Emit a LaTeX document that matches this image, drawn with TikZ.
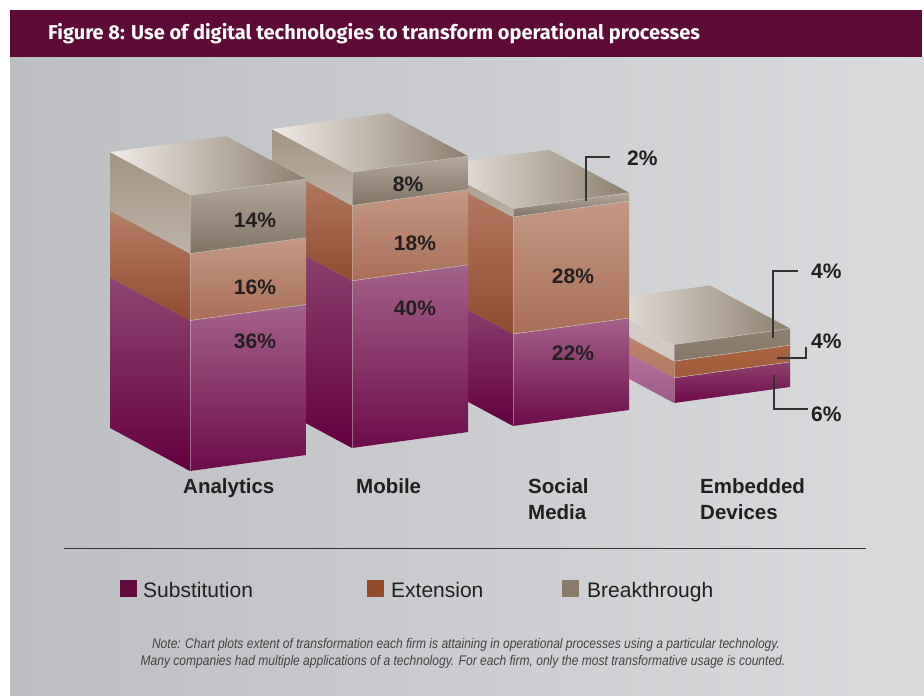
\documentclass[tikz,border=0pt]{standalone}
\usepackage{fontspec}
\setmainfont{Liberation Sans}
\newfontfamily\titlefont{Fira Sans}
\newfontfamily\notefont[FakeStretch=0.86]{Liberation Sans}
\definecolor{titlebg}{HTML}{5E0A37}
\definecolor{bgL}{HTML}{BDBEC2}
\definecolor{bgR}{HTML}{DADBDD}
\definecolor{subFT}{HTML}{A2628A}
\definecolor{subFB}{HTML}{6C0C4B}
\definecolor{subLT}{HTML}{8C4672}
\definecolor{subLB}{HTML}{640040}
\definecolor{extFT}{HTML}{C59883}
\definecolor{extFB}{HTML}{A86F56}
\definecolor{extLT}{HTML}{B67F67}
\definecolor{extLB}{HTML}{8F4C2E}
\definecolor{brkFT}{HTML}{B4A89C}
\definecolor{brkFB}{HTML}{807364}
\definecolor{brkLT}{HTML}{A29482}
\definecolor{brkLB}{HTML}{BCB2A6}
\definecolor{topL}{HTML}{F0ECE7}
\definecolor{topR}{HTML}{8C7E6D}
\definecolor{edgec}{HTML}{C9C2BB}
\definecolor{labelc}{HTML}{231F20}
\definecolor{leaderc}{HTML}{333333}
\definecolor{legSub}{HTML}{620A3E}
\definecolor{legExt}{HTML}{964A2A}
\definecolor{legBrk}{HTML}{8A7A6A}
\def\hpct{4.18}
\tikzset{
  lbl/.style={font=\bfseries\fontsize{21}{21}\selectfont, text=labelc, inner sep=0pt},
  cat/.style={font=\bfseries\fontsize{20.5}{20.5}\selectfont, text=labelc, anchor=base west, inner sep=0pt},
  legtext/.style={font=\fontsize{21}{21}\selectfont, text=labelc, anchor=base west, inner sep=0pt},
  leader/.style={draw=leaderc, line width=1.1pt},
  faceedge/.style={draw=edgec, line width=0.5pt},
  legbox/.style={inner sep=0pt, minimum size=17pt, anchor=north west},
  notetext/.style={inner sep=0pt, text=labelc!85, font=\notefont\itshape\fontsize{14}{14}\selectfont},
}
% #1 x of front-left, #2 y of front-left bottom, #3 sub, #4 ext, #5 brk
\newcommand\drawbar[5]{%
  \pgfmathsetmacro\ya{#2-#3*\hpct}%
  \pgfmathsetmacro\yb{\ya-#4*\hpct}%
  \pgfmathsetmacro\yc{\yb-#5*\hpct}%
  % left faces
  \shade[top color=subLT,bottom color=subLB] (#1,#2) -- (#1-80,#2-43) -- (#1-80,\ya-43) -- (#1,\ya) -- cycle;
  \shade[top color=extLT,bottom color=extLB] (#1,\ya) -- (#1-80,\ya-43) -- (#1-80,\yb-43) -- (#1,\yb) -- cycle;
  \shade[top color=brkLT,bottom color=brkLB] (#1,\yb) -- (#1-80,\yb-43) -- (#1-80,\yc-43) -- (#1,\yc) -- cycle;
  % front faces
  \shade[top color=subFT,bottom color=subFB] (#1,#2) -- (#1+116,#2-16) -- (#1+116,\ya-16) -- (#1,\ya) -- cycle;
  \shade[top color=extFT,bottom color=extFB] (#1,\ya) -- (#1+116,\ya-16) -- (#1+116,\yb-16) -- (#1,\yb) -- cycle;
  \shade[top color=brkFT,bottom color=brkFB] (#1,\yb) -- (#1+116,\yb-16) -- (#1+116,\yc-16) -- (#1,\yc) -- cycle;
  % top face
  \shade[left color=topL,right color=topR] (#1,\yc) -- (#1+116,\yc-16) -- (#1+36,\yc-59) -- (#1-80,\yc-43) -- cycle;
  % edges
  \draw[faceedge] (#1,\ya) -- (#1+116,\ya-16);
  \draw[faceedge] (#1,\yb) -- (#1+116,\yb-16);
  \draw[faceedge] (#1,\yc) -- (#1+116,\yc-16);
  \draw[faceedge, opacity=0.5] (#1,#2) -- (#1,\yc);
}
\begin{document}
\begin{tikzpicture}[x=1pt,y=-1pt]
\useasboundingbox (0,0) rectangle (924,696);
\fill[white] (0,0) rectangle (924,696);
\shade[left color=bgL,right color=bgR] (10,57) rectangle (924,696);
\fill[titlebg] (10,10) rectangle (922,57);
\node[anchor=base west, inner sep=0pt, text=white, font=\titlefont\bfseries\fontsize{20}{20}\selectfont] (title) at (48,39) {Figure 8: Use of digital technologies to transform operational processes};

% bars, back to front
\begin{scope}
  \definecolor{subFT}{HTML}{8E426F}
  \definecolor{subFB}{HTML}{6C0A4A}
  \definecolor{subLT}{HTML}{B67CA2}
  \definecolor{subLB}{HTML}{A05A88}
  \definecolor{extFT}{HTML}{A8633F}
  \definecolor{extFB}{HTML}{A05C3B}
  \definecolor{extLT}{HTML}{C08A70}
  \definecolor{extLB}{HTML}{B27A60}
  \definecolor{brkFT}{HTML}{8E8172}
  \definecolor{brkFB}{HTML}{857868}
  \definecolor{brkLT}{HTML}{D7D1CA}
  \definecolor{brkLB}{HTML}{CFC8C0}
  \drawbar{674}{403}{6}{4}{4}
\end{scope}
\drawbar{513}{426}{22}{28}{2}
\drawbar{352}{448}{40}{18}{8}
\drawbar{190}{471}{36}{16}{14}

% value labels
\node[lbl] (a14) at (255,220) {14\%};
\node[lbl] (a16) at (255,287) {16\%};
\node[lbl] (a36) at (255,341) {36\%};
\node[lbl] (m8) at (408,184) {8\%};
\node[lbl] (m18) at (415,243) {18\%};
\node[lbl] (m40) at (415,308) {40\%};
\node[lbl] (s28) at (573,276) {28\%};
\node[lbl] (s22) at (573,353) {22\%};

% leaders
\node[lbl, anchor=west] (s2) at (627,158) {2\%};
\coordinate (s2a) at (586,201);
\coordinate (s2b) at (610,157);
\draw[leader] (s2a) |- (s2b);

\node[lbl, anchor=west] (e4a) at (811,271) {4\%};
\coordinate (e4aa) at (773,338);
\coordinate (e4ab) at (798,271);
\draw[leader] (e4aa) |- (e4ab);

\node[lbl, anchor=west] (e4b) at (811,341) {4\%};
\coordinate (e4ba) at (777,358);
\coordinate (e4bb) at (806,347);
\draw[leader] (e4ba) -| (e4bb);

\node[lbl, anchor=west] (e6) at (811,414) {6\%};
\coordinate (e6a) at (774,375);
\coordinate (e6b) at (808,409);
\draw[leader] (e6a) |- (e6b);

% categories
\node[cat] (cA) at (183,493) {Analytics};
\node[cat] (cM) at (356,493) {Mobile};
\node[cat] (cS1) at (528,493) {Social};
\node[cat] (cS2) at (528,519) {Media};
\node[cat] (cE1) at (700,493) {Embedded};
\node[cat] (cE2) at (700,519) {Devices};

% separator
\coordinate (sepL) at (64,548);
\coordinate (sepR) at (866,548);
\draw[leaderc, line width=1pt] (sepL) -- (sepR);

% legend
\node[legbox, fill=legSub] (ls) at (120,580) {};
\node[legtext] (lst) at (143,597) {Substitution};
\node[legbox, fill=legExt] (le) at (367,580) {};
\node[legtext] (let) at (391,597) {Extension};
\node[legbox, fill=legBrk] (lb) at (562,580) {};
\node[legtext] (lbt) at (587,597) {Breakthrough};

% note
\node[notetext] (n1) at (466,645) {Note: Chart plots extent of transformation each firm is attaining in operational processes using a particular technology.};
\node[notetext] (n2) at (463,662) {Many companies had multiple applications of a technology. For each firm, only the most transformative usage is counted.};
\end{tikzpicture}
\end{document}
